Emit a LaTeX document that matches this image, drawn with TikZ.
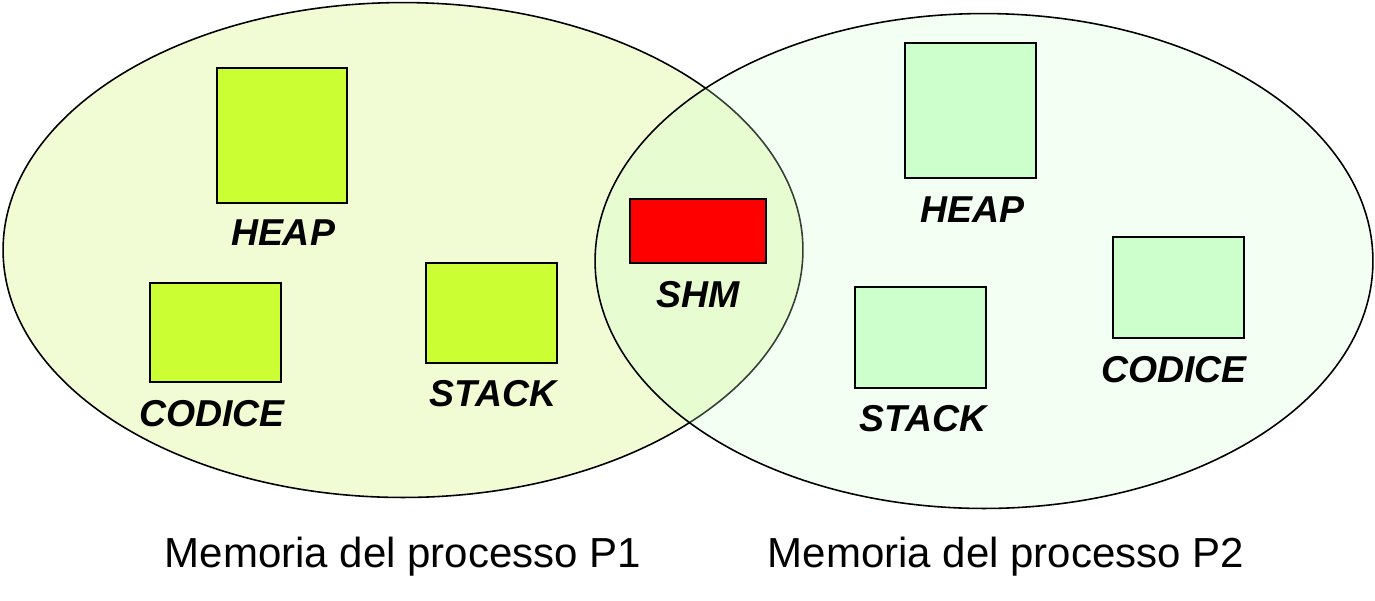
\documentclass[tikz,border=0pt]{standalone}
\usepackage{fontspec}
\setmainfont{Liberation Sans}
\usepackage{xcolor}
\usepackage{tikz}
\usetikzlibrary{shapes.geometric}
\usetikzlibrary{positioning}

\definecolor{pOneBg}{RGB}{242,252,212}
\definecolor{pTwoBg}{RGB}{204,255,204}
\definecolor{limeBox}{RGB}{204,255,51}
\definecolor{mintBox}{RGB}{204,255,204}

\begin{document}
\begin{tikzpicture}[x=0.02cm, y=-0.02cm,
  mem/.style={draw, ellipse, line width=0.9pt, inner sep=0pt},
  seg/.style={draw, line width=0.9pt, inner sep=0pt, minimum width=2.62cm},
  seglabel/.style={anchor=base, font=\fontsize{21.3}{24}\selectfont\bfseries\itshape},
  caption/.style={anchor=base, font=\fontsize{23.9}{28}\selectfont}]
  \useasboundingbox (0,0) rectangle (1375,600);

  % Memory of the two processes
  \node[mem, fill=pOneBg, minimum width=16cm, minimum height=9.9cm] (p1) at (403,250) {};
  \node[mem, fill=pTwoBg, fill opacity=0.25, minimum width=15.56cm, minimum height=9.9cm] (p2) at (984,261) {};

  % Segments of process P1
  \node[seg, fill=limeBox, minimum width=2.6cm, minimum height=2.7cm] (heap1) at (282,135.5) {};
  \node[seg, fill=limeBox, minimum height=1.98cm] (code1) at (215.5,332.5) {};
  \node[seg, fill=limeBox, minimum height=2cm] (stack1) at (491.5,313) {};

  \node[seglabel] (heap1l) at (283,245) {HEAP};
  \node[seglabel] (code1l) at (212,426) {CODICE};
  \node[seglabel] (stack1l) at (493,406) {STACK};

  % Shared memory
  \node[seg, fill=red, minimum width=2.72cm, minimum height=1.28cm] (shm) at (698,231) {};
  \node[seglabel] (shml) at (698,307) {SHM};

  % Segments of process P2
  \node[seg, fill=mintBox, minimum height=2.7cm] (heap2) at (970.5,110.5) {};
  \node[seg, fill=mintBox, minimum height=2.02cm] (code2) at (1178.5,287.5) {};
  \node[seg, fill=mintBox, minimum height=2.02cm] (stack2) at (920.5,337.5) {};

  \node[seglabel] (heap2l) at (972,222) {HEAP};
  \node[seglabel] (code2l) at (1174,382) {CODICE};
  \node[seglabel] (stack2l) at (923,431) {STACK};

  % Captions
  \node[caption] (cap1) at (403,567) {Memoria del processo P1};
  \node[caption] (cap2) at (1006,567) {Memoria del processo P2};
\end{tikzpicture}
\end{document}
